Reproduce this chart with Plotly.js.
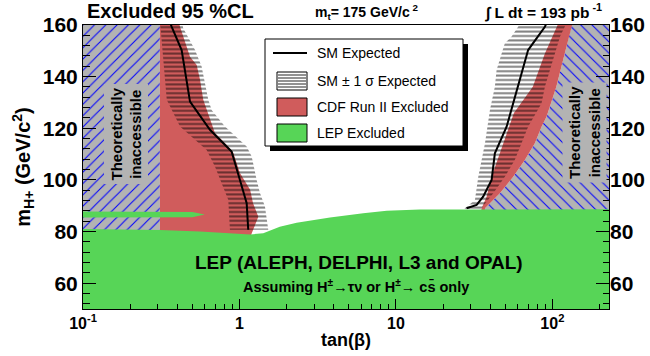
<!DOCTYPE html>
<html><head><meta charset="utf-8">
<script src="https://cdn.plot.ly/plotly-3.0.1.min.js"></script>
<style>body{margin:0;background:#fff}</style>
</head><body><div id="chart" style="width:650px;height:356px"></div>
<script>
// ---- tick labels ----
const xTickVals = [0.1, 1, 10, 100];
const xTickText = ['10<sup>-1</sup>', '1', '10', '10<sup>2</sup>'];
const xMinorVals = [0.2,0.3,0.4,0.5,0.6,0.7,0.8,0.9,2,3,4,5,6,7,8,9,20,30,40,50,60,70,80,90,200];
const yTickVals = [60, 80, 100, 120, 140, 160];

// ---- theoretically inaccessible regions (tanβ, mH+) ----
const inaccLeftX = [0.09, 0.31, 0.31, 0.09];
const inaccLeftY = [79, 79, 161, 161];
const inaccRightX = [135, 133, 120, 106, 91.8, 85.3, 77.3, 66.7, 56.2, 46.2, 37.1, 37, 260, 260];
const inaccRightY = [161, 160, 149.0, 136.1, 124.5, 120.6, 114.2, 107.7, 101.2, 94.8, 89.0, 87.5, 87.5, 161];

// ---- CDF Run II excluded ----
const cdfLeftX = [0.31, 0.41, 0.417, 0.483, 0.533, 0.560, 0.587, 0.632, 0.697, 0.848, 0.913, 1.007, 1.17, 1.22, 1.32, 1.20, 1.15, 0.31];
const cdfLeftY = [161, 161, 159.3, 147.7, 144.5, 138.7, 131.0, 125.2, 118.2, 112.9, 110.5, 102.7, 96.2, 91.1, 85.7, 79.4, 76, 76];
const cdfRightX = [110, 108, 89.6, 75.0, 56.8, 48.5, 40.9, 38.0, 35.3, 35, 37, 37.1, 46.2, 56.2, 66.7, 77.3, 85.3, 91.8, 106, 120, 133, 135];
const cdfRightY = [161, 160, 149.0, 136.1, 125.9, 114.2, 101.2, 93.5, 89.0, 87.5, 87.5, 89.0, 94.8, 101.2, 107.7, 114.2, 120.6, 124.5, 136.1, 149.0, 160, 161];

// ---- SM +-1 sigma expected band ----
const bandLeftX = [0.31, 0.314, 0.343, 0.417, 0.617, 0.697, 0.848, 0.869, 1.528, 1.455, 1.352, 1.288, 1.197, 1.112, 0.808, 0.664, 0.632, 0.573, 0.520, 0.437, 0.43];
const bandLeftY = [161, 158.1, 131.0, 120.7, 111.6, 105.2, 92.3, 80.7, 80.7, 89.7, 94.9, 100.0, 109.1, 112.9, 120.7, 127.1, 131.0, 143.9, 150.3, 158.7, 161];
const bandRightX = [62, 60.4, 54.9, 49.7, 47.4, 44.0, 42.9, 40.9, 39.9, 37.1, 33.6, 32.0, 27.6, 27, 35, 35.3, 41.9, 49.7, 57.5, 63.5, 70.0, 77.3, 85.3, 89.6, 96.4, 104, 112, 120, 122];
const bandRightY = [161, 159.3, 155.5, 152.9, 149.0, 142.6, 136.1, 129.7, 127.1, 114.2, 101.2, 92.2, 89.0, 87.5, 87.5, 89.0, 94.8, 101.2, 107.7, 114.2, 120.6, 125.1, 129.7, 136.1, 142.6, 149.0, 155.5, 159.3, 161];

// ---- SM expected ----
const smLeftX = [0.36, 0.369, 0.427, 0.483, 0.648, 0.891, 1.007, 1.112, 1.138];
const smLeftY = [161, 159.3, 150.3, 130.3, 119.4, 111.0, 100.0, 91.0, 80.7];
const smRightX = [92, 89.6, 70.0, 60.4, 53.5, 51.0, 42.9, 40.9, 36.1, 32.8, 28.3];
const smRightY = [161, 159.3, 150.3, 136.1, 124.5, 120.6, 110.3, 100.0, 93.5, 90.3, 89.0];

// ---- LEP excluded ----
const lepX = [0.09, 0.31, 0.56, 0.87, 1.17, 1.42, 1.81, 2.32, 3.79, 6.18, 8.73, 14.2, 260, 260, 0.09];
const lepY = [81.0, 80.6, 80.0, 79.4, 78.9, 79.3, 81.9, 83.4, 85.4, 87.1, 88.1, 88.5, 88.6, 48, 48];
const lepSliverX = [0.09, 0.50, 0.60, 0.50, 0.09];
const lepSliverY = [87.8, 87.6, 86.6, 85.5, 85.4];

const FONT = 'Liberation Sans, Arial, Helvetica, sans-serif';
const RED = 'rgb(208,92,92)';
const GREEN = 'rgb(87,213,87)';
const GRAY = 'rgb(179,179,179)';

function poly(x, y, extra) {
  return Object.assign({x: x, y: y, mode: 'lines', fill: 'toself', line: {width: 0}, hoverinfo: 'skip', showlegend: false}, extra);
}
const hatch = (shape) => ({shape: shape, fgcolor: 'rgb(0,0,255)', bgcolor: GRAY, size: 8, solidity: 0.13});
const bandPat = {shape: '-', fgcolor: 'rgb(0,0,0)', fgopacity: 0.5, bgcolor: 'rgba(0,0,0,0)', size: 4.4, solidity: 0.45};

const traces = [
  poly(inaccLeftX, inaccLeftY, {fillcolor: GRAY, fillpattern: hatch('/')}),
  poly(inaccRightX, inaccRightY, {fillcolor: GRAY, fillpattern: hatch('\\')}),
  poly(cdfLeftX, cdfLeftY, {fillcolor: RED}),
  poly(cdfRightX, cdfRightY, {fillcolor: RED}),
  poly(bandLeftX, bandLeftY, {fillcolor: 'rgba(0,0,0,0)', fillpattern: bandPat}),
  poly(bandRightX, bandRightY, {fillcolor: 'rgba(0,0,0,0)', fillpattern: bandPat}),
  {x: smLeftX, y: smLeftY, mode: 'lines', line: {color: 'black', width: 2}, hoverinfo: 'skip', showlegend: false},
  {x: smRightX, y: smRightY, mode: 'lines', line: {color: 'black', width: 2}, hoverinfo: 'skip', showlegend: false},
  poly(lepSliverX, lepSliverY, {fillcolor: GREEN}),
  poly(lepX, lepY, {fillcolor: GREEN, yaxis: 'y2'})
];

// pixel -> paper helpers for decorations (plot area: x 83..609, y 25..309)
const px = X => (X - 83) / 526;
const py = Y => (309 - Y) / 284;

const shapes = [
  {type: 'rect', xref: 'paper', yref: 'paper', x0: px(270), x1: px(468), y0: py(151), y1: py(44), fillcolor: 'black', line: {width: 0}},
  {type: 'rect', xref: 'paper', yref: 'paper', x0: px(265), x1: px(463), y0: py(146), y1: py(39), fillcolor: 'white', line: {color: 'black', width: 1}},
  {type: 'line', xref: 'paper', yref: 'paper', x0: px(273), x1: px(307), y0: py(53), y1: py(53), line: {color: 'black', width: 2}},
  {type: 'rect', xref: 'paper', yref: 'paper', x0: px(277), x1: px(307), y0: py(90), y1: py(72), fillcolor: 'white', line: {color: 'black', width: 1}},
  {type: 'rect', xref: 'paper', yref: 'paper', x0: px(277), x1: px(307), y0: py(116), y1: py(98), fillcolor: RED, line: {color: 'black', width: 1}},
  {type: 'rect', xref: 'paper', yref: 'paper', x0: px(277), x1: px(307), y0: py(142), y1: py(124), fillcolor: GREEN, line: {color: 'black', width: 1}}
];
[75, 78, 81, 84, 87].forEach(Y => shapes.push({type: 'line', xref: 'paper', yref: 'paper', x0: px(278), x1: px(306), y0: py(Y), y1: py(Y), line: {color: 'rgb(110,110,110)', width: 1.5}}));

function ann(text, X, Y, size, extra) {
  return Object.assign({text: text, xref: 'paper', yref: 'paper', x: px(X), y: py(Y), showarrow: false,
    xanchor: 'left', yanchor: 'middle', font: {family: FONT, size: size, color: 'black'}}, extra);
}
const annotations = [
  ann('<b>Excluded 95 %CL</b>', 85, 11, 20),
  ann('<b>m<sub>t</sub>= 175 GeV/c<sup> 2</sup></b>', 313, 12, 14),
  ann('<b>∫ L dt = 193 pb<sup> -1</sup></b>', 483, 12, 15.5),
  ann('SM Expected', 315, 53, 14),
  ann('SM ± 1 σ Expected', 315, 81, 14),
  ann('CDF Run II Excluded', 315, 107, 14),
  ann('LEP Excluded', 315, 133, 14),
  ann('<b>LEP (ALEPH, DELPHI, L3 and OPAL)</b>', 359, 262, 19, {xanchor: 'center'}),
  ann('<b>Assuming H<sup>±</sup>→τν or H<sup>±</sup>→ cs\u0304 only</b>', 356, 286, 14.5, {xanchor: 'center'}),
  ann('<b>Theoretically<br>inaccessible</b>', 125.5, 134, 15, {xanchor: 'center', textangle: -90, bgcolor: GRAY, borderpad: 3}),
  ann('<b>Theoretically<br>inaccessible</b>', 584.5, 132.5, 15, {xanchor: 'center', textangle: -90, bgcolor: GRAY, borderpad: 3})
];

const layout = {
  width: 650, height: 356,
  margin: {l: 83, r: 41, t: 25, b: 47, pad: 0},
  paper_bgcolor: 'white', plot_bgcolor: 'white',
  font: {family: FONT, color: 'black'},
  showlegend: false,
  xaxis: {
    type: 'log', range: [-1, 2.362], showgrid: false, zeroline: false,
    showline: true, linecolor: 'black', linewidth: 1, mirror: true,
    ticks: 'inside', ticklen: 10, tickcolor: 'black', tickwidth: 1,
    tickmode: 'array', tickvals: xTickVals, ticktext: xTickText,
    tickfont: {family: FONT, size: 16, weight: 'bold'},
    minor: {ticks: 'inside', ticklen: 5, tickcolor: 'black', tickmode: 'array', tickvals: xMinorVals, showgrid: false},
    title: {text: '<b>tan(β)</b>', font: {family: FONT, size: 18}, standoff: 2}
  },
  yaxis: {
    range: [50, 160], showgrid: false, zeroline: false,
    showline: true, linecolor: 'black', linewidth: 1, mirror: true,
    ticks: 'inside', ticklen: 13, tickcolor: 'black', tickwidth: 1,
    tickmode: 'array', tickvals: yTickVals,
    tickfont: {family: FONT, size: 21, weight: 'bold'},
    minor: {ticks: 'inside', ticklen: 6.5, tickcolor: 'black', dtick: 4, tick0: 0, showgrid: false},
    title: {text: '<b>m<sub>H+</sub> (GeV/c<sup>2</sup>)</b>', font: {family: FONT, size: 20}, standoff: 6}
  },
  yaxis2: {
    overlaying: 'y', side: 'right', range: [50, 160], showgrid: false, zeroline: false, showline: false,
    ticks: 'inside', ticklen: 13, tickcolor: 'black', tickwidth: 1,
    tickmode: 'array', tickvals: yTickVals,
    tickfont: {family: FONT, size: 21, weight: 'bold'},
    minor: {ticks: 'inside', ticklen: 6.5, tickcolor: 'black', dtick: 4, tick0: 0, showgrid: false}
  },
  shapes: shapes,
  annotations: annotations
};

Plotly.newPlot('chart', traces, layout, {displayModeBar: false, staticPlot: true});
</script></body></html>
